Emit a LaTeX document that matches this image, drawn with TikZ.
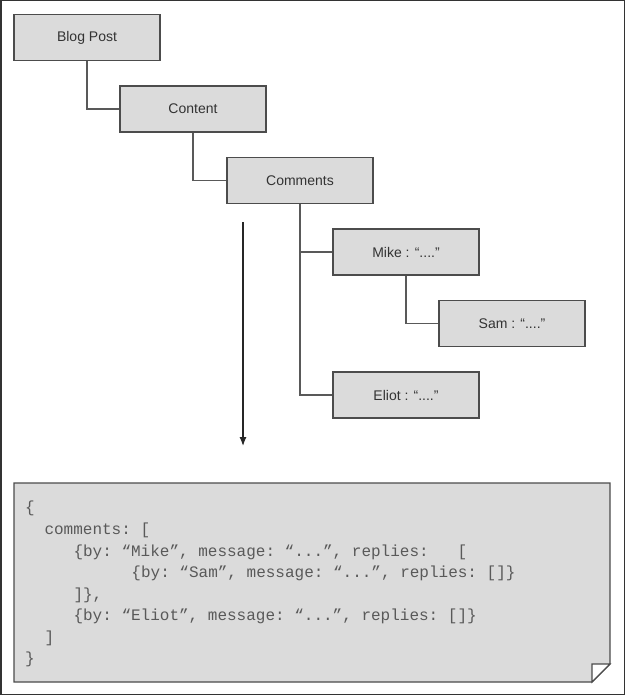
\documentclass[tikz,border=0pt]{standalone}
\usepackage{fontspec}
\usetikzlibrary{arrows.meta}
\setmainfont{Liberation Sans}
\setmonofont{Liberation Mono}
\begin{document}
\begin{tikzpicture}[x=1pt,y=-1pt,
  box/.style={draw=black!70,fill=black!14,line width=1.2pt,minimum width=146pt,minimum height=46pt,inner sep=0pt,font=\fontsize{14}{16}\selectfont,text=black!80},
  con/.style={draw=black!65,line width=1.2pt},
  code/.style={anchor=base west,inner sep=0pt,font=\fontsize{16}{20}\ttfamily,text=black!65}]
\useasboundingbox (0,0) rectangle (625,695);
\draw[black!80,line width=1.5pt] (0.75,0.75) rectangle (624.25,694.25);
\node[box] (bp) at (87,37.5) {Blog Post};
\node[box] (ct) at (193,109) {Content};
\node[box] (cm) at (300,180.5) {Comments};
\node[box] (mk) at (406,252) {Mike : “....”};
\node[box] (sm) at (512,323.5) {Sam : “....”};
\node[box] (el) at (406,395) {Eliot : “....”};
\draw[con] (bp.south) |- (ct.west);
\draw[con] (ct.south) |- (cm.west);
\draw[con] (cm.south) |- (mk.west);
\draw[con] (cm.south) |- (el.west);
\draw[con] (mk.south) |- (sm.west);
\coordinate (a1) at (243,222);
\coordinate (a2) at (243,446);
\draw[con,black!85,-{Latex[length=9pt,width=7pt]}] (a1) -- (a2);
\draw[draw=black!70,fill=black!14,line width=1.2pt] (14,483) -- (610,483) -- (610,664) -- (592,682) -- (14,682) -- cycle;
\draw[draw=black!70,fill=white,line width=1.2pt] (610,664) -- (592,664) -- (592,682) -- cycle;
\def\cw{9.66}
\node[code] (l1) at (25,512) {\{};
\node[code] (l2) at (25+2*\cw,534) {comments: [};
\node[code] (l3) at (25+5*\cw,556) {\{by: “Mike”, message: “...”, replies:\ \ \ [};
\node[code] (l4) at (25+11*\cw,577) {\{by: “Sam”, message: “...”, replies: []\}};
\node[code] (l5) at (25+5*\cw,599) {]\},};
\node[code] (l6) at (25+5*\cw,620) {\{by: “Eliot”, message: “...”, replies: []\}};
\node[code] (l7) at (25+2*\cw,642) {]};
\node[code] (l8) at (25,663) {\}};
\end{tikzpicture}
\end{document}
